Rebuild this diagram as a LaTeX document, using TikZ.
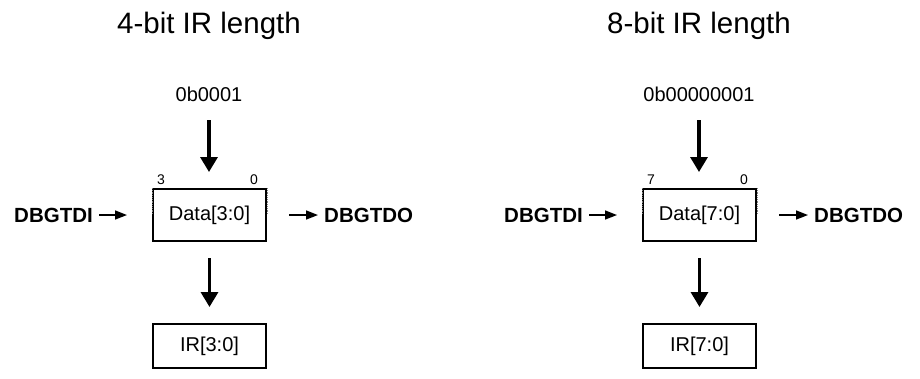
\documentclass[tikz,border=0pt]{standalone}
\usepackage{fontspec}
\setmainfont{Liberation Sans}
\usetikzlibrary{arrows.meta}
\begin{document}
\begin{tikzpicture}[x=1pt,y=-1pt,
  title/.style={inner sep=0pt, font=\fontsize{29.5}{31}\selectfont},
  lbl/.style={inner sep=0pt, font=\fontsize{20}{22}\selectfont},
  sig/.style={inner sep=0pt, font=\fontsize{20.5}{22}\selectfont\bfseries},
  bitnum/.style={inner sep=0pt, font=\fontsize{14}{16}\selectfont},
  regbox/.style={draw, line width=2pt, minimum width=113pt, inner sep=0pt, font=\fontsize{20}{22}\selectfont},
  bigarrow/.style={line width=3.3pt, -{Triangle[length=15pt,width=17pt]}},
  smallarrow/.style={line width=1.6pt, -{Triangle[length=12pt,width=9pt]}},
  guide/.style={densely dotted, line width=0.8pt, gray}
]
\useasboundingbox (0,0) rectangle (920,378);
\foreach \ox/\n/\hex/\hi/\nm in {0/4/0b0001/3/a, 490/8/0b00000001/7/b}{
  \node[title, anchor=base] (title\nm) at (\ox+209,33) {\n-bit IR length};
  \node[lbl, anchor=base] (hex\nm) at (\ox+209,101) {\hex};
  \node[regbox, minimum height=52pt] (data\nm) at (\ox+209.5,215) {Data[\hi:0]};
  \node[regbox, minimum height=44pt] (ir\nm) at (\ox+209.5,346) {IR[\hi:0]};
  \node[sig, anchor=east] (tdi\nm) at (\ox+93,215) {DBGTDI};
  \node[sig, anchor=west] (tdo\nm) at (\ox+324,215) {DBGTDO};
  \node[bitnum, anchor=base west] (msb\nm) at (\ox+157,184) {\hi};
  \node[bitnum, anchor=base east] (lsb\nm) at (\ox+258,184) {0};
  \coordinate (gl\nm) at ([yshift=-26pt]data\nm.north west);
  \coordinate (gr\nm) at ([yshift=-26pt]data\nm.north east);
  \draw[guide] (data\nm.north west) -- (gl\nm);
  \draw[guide] (data\nm.north east) -- (gr\nm);
  \draw[bigarrow, shorten <=19pt, shorten >=16pt] (hex\nm.base) -- (hex\nm.base |- data\nm.north);
  \draw[bigarrow, shorten <=16pt, shorten >=16pt] (data\nm) -- (ir\nm);
  \draw[smallarrow, shorten <=6pt, shorten >=25pt] (tdi\nm) -- (data\nm);
  \draw[smallarrow, shorten <=22pt, shorten >=6pt] (data\nm) -- (tdo\nm);
}
\end{tikzpicture}
\end{document}
